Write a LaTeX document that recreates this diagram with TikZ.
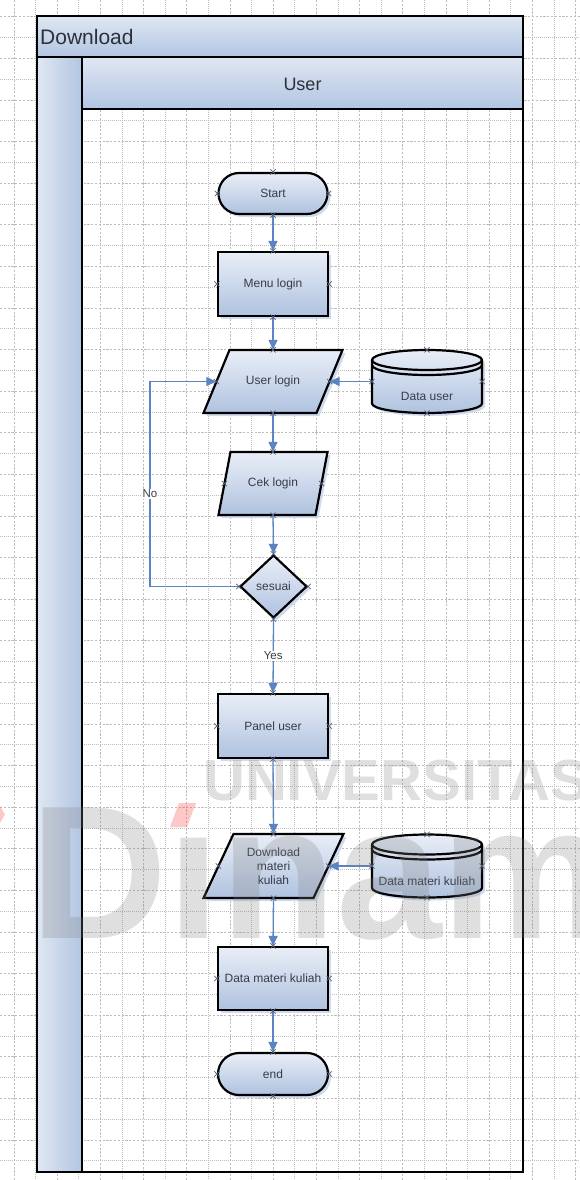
\documentclass[tikz,border=0pt]{standalone}
\usepackage{fontspec}
\setmainfont{Liberation Sans}
\usetikzlibrary{shapes.geometric,shapes.misc,arrows.meta,calc,shadows}

\definecolor{gridc}{HTML}{BDBDBD}
\definecolor{fillL}{HTML}{E9EEF7}
\definecolor{fillD}{HTML}{AFC2DF}
\definecolor{barL}{HTML}{DFE7F3}
\definecolor{barD}{HTML}{B2C5E2}
\definecolor{flowc}{HTML}{5A84C3}
\definecolor{txtc}{HTML}{373C47}
\definecolor{glow}{HTML}{CAD7EC}
\definecolor{cpc}{HTML}{596070}

\tikzset{
  gridA/.style={draw=gridc, line width=0.45pt, dash pattern=on 2.2pt off 1.6pt},
  gridB/.style={draw=gridc, line width=0.45pt, dash pattern=on 0.8pt off 1.2pt},
  bar/.style={draw=black, line width=2.6pt, top color=barL, bottom color=barD, inner sep=0pt},
  strip/.style={draw=black, line width=2.6pt, left color=barL, right color=barD, inner sep=0pt},
  outline/.style={draw=black, line width=2.2pt, line join=miter},
  shapebase/.style={outline, top color=fillL, bottom color=fillD,
    text=txtc, font=\fontsize{12}{14}\selectfont, align=center, inner sep=0pt,
    drop shadow={shadow xshift=3pt, shadow yshift=-3pt, fill=glow, opacity=0.9}},
  terminal/.style={shapebase, rounded rectangle, minimum width=109pt, minimum height=41pt},
  process/.style={shapebase, rectangle, minimum width=110pt, minimum height=64pt},
  decision/.style={shapebase, diamond, minimum width=67pt, minimum height=63pt},
  anchorbox/.style={rectangle, draw=none, inner sep=0pt, text=txtc,
    font=\fontsize{12}{14}\selectfont, align=center},
  ntext/.style={text=txtc, font=\fontsize{12}{14}\selectfont, inner sep=0pt},
  flow/.style={draw=flowc, line width=1.3pt, -{Triangle[length=10pt,width=9pt]}},
  lbl/.style={fill=white, text=txtc, inner sep=1pt, font=\fontsize{11.5}{13}\selectfont},
  wm/.style={text=gray, opacity=0.25, inner sep=0pt},
  cpx/.pic={\draw[cpc, line width=0.7pt] (-2.6,-2.6) -- (2.6,2.6) (-2.6,2.6) -- (2.6,-2.6);}
}

% input/output step: parallelogram of side #4, slant #5, height #6, leaning right
\newcommand\ioshape[7]{%
  \begin{scope}[shift={(#2,#3)}]
    \fill[glow, opacity=0.9] ({-#4/2+#5/2+3},{-#6/2+3}) -- ({#4/2+#5/2+3},{-#6/2+3})
      -- ({#4/2-#5/2+3},{#6/2+3}) -- ({-#4/2-#5/2+3},{#6/2+3}) -- cycle;
    \path[outline, top color=fillL, bottom color=fillD] ({-#4/2+#5/2},{-#6/2}) -- ({#4/2+#5/2},{-#6/2})
      -- ({#4/2-#5/2},{#6/2}) -- ({-#4/2-#5/2},{#6/2}) -- cycle;
  \end{scope}
  \node[anchorbox, minimum width=#4pt, minimum height=#6pt] (#1) at (#2,#3) {#7};
}

% data store drawn as a cylinder with a rim line under the top ellipse
\newcommand\storeshape[4]{%
  \begin{scope}[shift={(#2,#3)}]
    \fill[glow, opacity=0.9] (-52,-18.5) -- (-52,25) arc[start angle=180,end angle=360,x radius=55pt,y radius=9.5pt]
      -- (58,-18.5) arc[start angle=0,end angle=180,x radius=55pt,y radius=10pt] -- cycle;
    \path[top color=fillL, bottom color=fillD] (-55,-21.5) -- (-55,22) arc[start angle=180,end angle=360,x radius=55pt,y radius=9.5pt]
      -- (55,-21.5) arc[start angle=0,end angle=180,x radius=55pt,y radius=10pt] -- cycle;
    \draw[outline, line join=round] (-55,-21.5) -- (-55,22) arc[start angle=180,end angle=360,x radius=55pt,y radius=9.5pt]
      -- (55,-21.5) arc[start angle=0,end angle=180,x radius=55pt,y radius=10pt] -- cycle;
    \draw[outline] (-55,-21.5) arc[start angle=180,end angle=360,x radius=55pt,y radius=10pt];
    \draw[outline] (-55,-16.5) arc[start angle=180,end angle=360,x radius=55pt,y radius=10pt];
  \end{scope}
  \node[anchorbox, minimum width=110pt, minimum height=63pt] (#1) at (#2,#3) {};
  \node[ntext] (#1-text) at ($(#1.center)+(0,15)$) {#4};
}

\begin{document}
\begin{tikzpicture}[x=1pt,y=-1pt]
\useasboundingbox (0,0) rectangle (580,1180);
\fill[white] (0,0) rectangle (580,1180);

% page grid
\foreach \k in {0,2,...,26} \draw[gridA] ({13.8+21.6*\k},0) -- ({13.8+21.6*\k},1180);
\foreach \k in {1,3,...,25} \draw[gridB] ({13.8+21.6*\k},0) -- ({13.8+21.6*\k},1180);
\foreach \k in {-5,-3,...,51} \draw[gridA] (0,{120.7+20.8*\k}) -- (580,{120.7+20.8*\k});
\foreach \k in {-4,-2,...,50} \draw[gridB] (0,{120.7+20.8*\k}) -- (580,{120.7+20.8*\k});

% pool and lane
\node[bar, minimum width=486pt, minimum height=41pt] (pool) at (280,36.5) {};
\node[anchor=west, text=txtc!80!black, font=\fontsize{21}{24}\selectfont, inner sep=0pt] (pooltitle) at (40,37) {Download};
\node[strip, minimum width=45pt, minimum height=1115pt] (lanestrip) at (59.5,614.5) {};
\node[bar, minimum width=441pt, minimum height=52pt] (lanehead) at (302.5,83) {};
\node[text=txtc!80!black, font=\fontsize{18}{20}\selectfont, inner sep=0pt] (lanetitle) at (302.5,84) {User};
\node[draw=black, line width=2.6pt, minimum width=441pt, minimum height=1063pt, inner sep=0pt] (lane) at (302.5,640.5) {};

% flow steps
\node[terminal] (start) at (273,193.5) {Start};
\node[process] (menu) at (273,284) {Menu login};
\ioshape{ulogin}{273}{381.5}{113}{26}{63}{User login}
\storeshape{duser}{427}{381.5}{Data user}
\ioshape{cek}{273}{483.5}{97}{12}{63}{Cek login}
\node[decision] (sesuai) at (273.5,586.5) {sesuai};
\node[process] (panel) at (273,726) {Panel user};
\ioshape{dl}{273.5}{866}{110}{30}{64}{Download\\materi\\kuliah}
\storeshape{dmateri}{427}{866}{Data materi kuliah}
\node[process, minimum height=63pt] (dmk) at (273,978.5) {Data materi kuliah};
\node[terminal, minimum width=110pt, minimum height=42pt] (end) at (273,1074) {end};

% connectors
\coordinate (noturn) at (150,586.5);
\draw[flow] (start.south) -- (menu.north);
\draw[flow] (menu.south) -- (ulogin.north);
\draw[flow] (duser.west) -- (ulogin.east);
\draw[flow] (ulogin.south) -- (cek.north);
\draw[flow] (cek.south) -- (sesuai.north);
\draw[flow] (sesuai.west) -- (noturn) |- (ulogin.west);
\node[lbl] (nolabel) at (150,494) {No};
\draw[flow] (sesuai.south) -- node[lbl] (yeslabel) {Yes} (panel.north);
\draw[flow] (panel.south) -- (dl.north);
\draw[flow] (dmateri.west) -- (dl.east);
\draw[flow] (dl.south) -- (dmk.north);
\draw[flow] (dmk.south) -- (end.north);

% connection points
\foreach \n in {start,menu,ulogin,duser,cek,sesuai,panel,dl,dmateri,dmk,end}
  \foreach \a in {north,south,east,west}
    \pic at (\n.\a) {cpx};

% watermark
\node[wm, anchor=base west, font=\fontsize{58}{58}\selectfont\bfseries] (wmtop) at (203,800) {UNIVERSITAS};
\node[wm, anchor=base west, font=\fontsize{190}{190}\selectfont\bfseries] (wmbig) at (30,938) {D\i nam};
\fill[red!70, opacity=0.3] (170,827) -- (179,803) -- (196,803) -- (187,827) -- cycle;
\fill[red!70, opacity=0.3] (0,806) -- (5,814.5) -- (0,823) -- cycle;
\end{tikzpicture}
\end{document}
